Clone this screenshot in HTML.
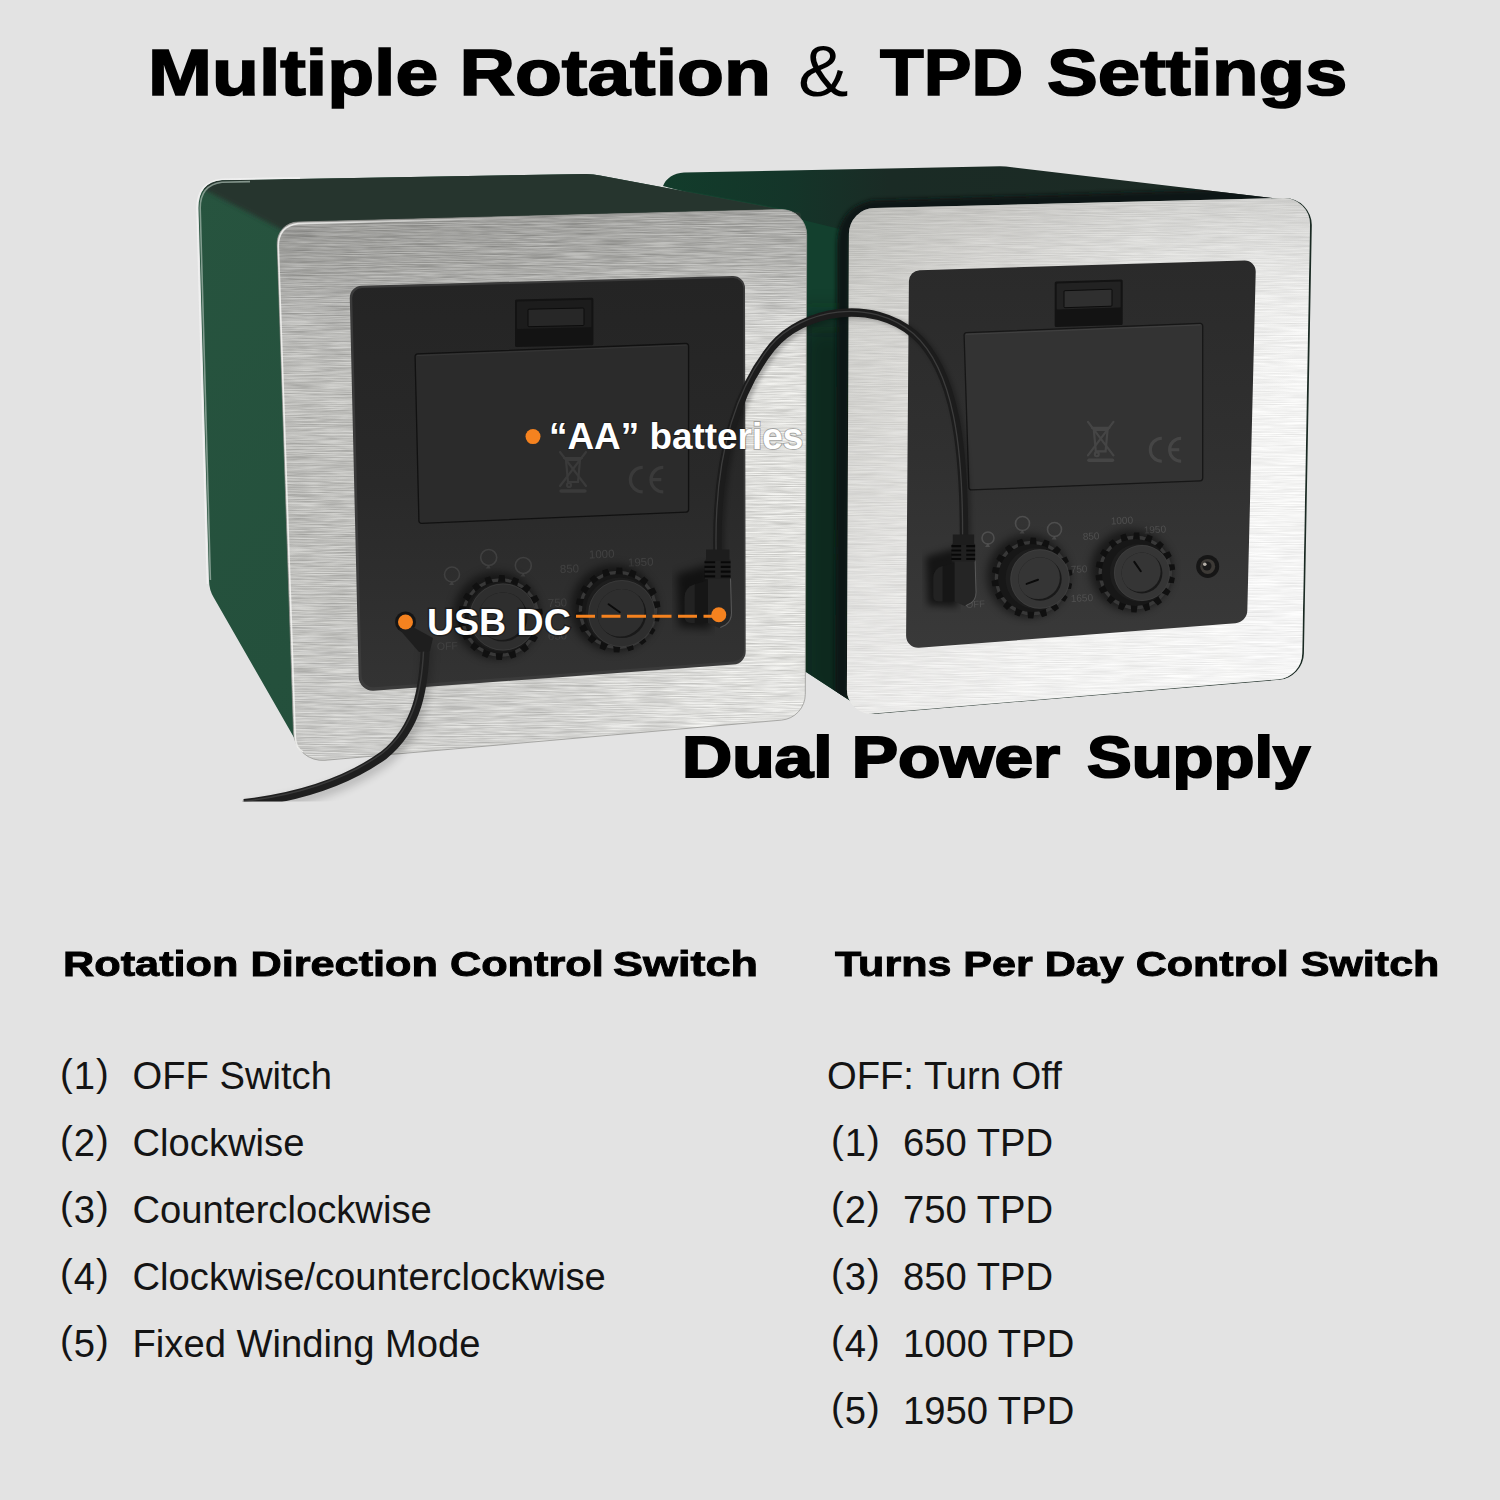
<!DOCTYPE html>
<html>
<head>
<meta charset="utf-8">
<title>Multiple Rotation &amp; TPD Settings</title>
<style>
  html, body { margin: 0; padding: 0; }
  body { width: 1500px; height: 1500px; overflow: hidden; background: #e3e3e3; font-family: "Liberation Sans", sans-serif; }
  #stage { position: relative; width: 1500px; height: 1500px; overflow: hidden; background: #e3e3e3; }
  #art { position: absolute; left: 0; top: 0; width: 1500px; height: 1500px; }
  .t { position: absolute; white-space: nowrap; color: #000; line-height: 1; transform-origin: 0 0; }
  .blk { font-weight: bold; -webkit-text-stroke: 1.6px #000; }
  .title { font-size: 64px; top: 41px; }
  .h2 { font-size: 35px; -webkit-text-stroke: 0.9px #000; }
  .li { font-size: 38.2px; color: #141414; }
  .pn { letter-spacing: 1px; }
  .p { position: relative; top: -3.5px; }
</style>
</head>
<body>
<div id="stage">
<svg id="art" viewBox="0 0 1500 1500" width="1500" height="1500">
<defs>
<filter id="brush" x="0" y="0" width="100%" height="100%" filterUnits="objectBoundingBox" color-interpolation-filters="sRGB">
  <feTurbulence type="fractalNoise" baseFrequency="0.025 0.9" numOctaves="3" seed="11" result="n"/>
  <feColorMatrix in="n" type="matrix" values="1.5 0 0 0 -0.15  1.5 0 0 0 -0.15  1.5 0 0 0 -0.15  0 0 0 0 1" result="g"/>
  <feComposite in="g" in2="SourceGraphic" operator="in"/>
</filter>
<filter id="blur2"><feGaussianBlur stdDeviation="2"/></filter>
<filter id="blur4"><feGaussianBlur stdDeviation="4"/></filter>
<filter id="blur8"><feGaussianBlur stdDeviation="8"/></filter>
<filter id="blur14"><feGaussianBlur stdDeviation="14"/></filter>
<linearGradient id="gSideL" x1="0" y1="0" x2="1" y2="1">
  <stop offset="0" stop-color="#27543f"/><stop offset="0.5" stop-color="#24503c"/><stop offset="1" stop-color="#234d3a"/>
</linearGradient>
<linearGradient id="gSilverL" x1="0" y1="0" x2="1" y2="0">
  <stop offset="0" stop-color="#c8c8c4"/><stop offset="0.13" stop-color="#cacac6"/><stop offset="0.5" stop-color="#d6d6d2"/><stop offset="0.86" stop-color="#f0f0ec"/><stop offset="1" stop-color="#f4f4f0"/>
</linearGradient>
<linearGradient id="gSilverLv" x1="0" y1="0" x2="0" y2="1">
  <stop offset="0" stop-color="#7c7c79" stop-opacity="0.6"/><stop offset="0.1" stop-color="#858582" stop-opacity="0.5"/><stop offset="0.2" stop-color="#999" stop-opacity="0.2"/><stop offset="0.32" stop-color="#aaa" stop-opacity="0"/><stop offset="0.7" stop-color="#fff" stop-opacity="0.05"/><stop offset="1" stop-color="#fff" stop-opacity="0.3"/>
</linearGradient>
<linearGradient id="gSilverR" x1="0" y1="0" x2="1" y2="0.2">
  <stop offset="0" stop-color="#d2d2ce"/><stop offset="0.3" stop-color="#e6e5e2"/><stop offset="0.65" stop-color="#f8f8f6"/><stop offset="1" stop-color="#fefefd"/>
</linearGradient>
<linearGradient id="gSilverRv" x1="0" y1="0" x2="0" y2="1">
  <stop offset="0" stop-color="#a2a29e" stop-opacity="0.42"/><stop offset="0.14" stop-color="#b0b0ac" stop-opacity="0.2"/><stop offset="0.4" stop-color="#fff" stop-opacity="0"/><stop offset="1" stop-color="#fff" stop-opacity="0.6"/>
</linearGradient>
<linearGradient id="gTopR" gradientUnits="userSpaceOnUse" x1="663" y1="0" x2="1290" y2="0">
  <stop offset="0" stop-color="#123c2b"/><stop offset="0.2" stop-color="#143529"/><stop offset="0.36" stop-color="#1a2b25"/><stop offset="1" stop-color="#1d2a25"/>
</linearGradient>
<linearGradient id="gSideR" gradientUnits="userSpaceOnUse" x1="807" y1="0" x2="850" y2="0">
  <stop offset="0" stop-color="#14422f"/><stop offset="0.55" stop-color="#113b2a"/><stop offset="0.72" stop-color="#0e261c"/><stop offset="0.8" stop-color="#0b1813"/><stop offset="1" stop-color="#0a1510"/>
</linearGradient>
<linearGradient id="gPanL" x1="0" y1="0" x2="0" y2="1"><stop offset="0" stop-color="#242424"/><stop offset="0.5" stop-color="#292929"/><stop offset="1" stop-color="#333333"/></linearGradient>
<linearGradient id="gPanR" x1="0" y1="0" x2="0" y2="1"><stop offset="0" stop-color="#2a2a2a"/><stop offset="0.5" stop-color="#303030"/><stop offset="1" stop-color="#393939"/></linearGradient>
</defs>
<path d="M663 186 Q668 174 684 172.6 L1000 166.3 Q1006 166.3 1012 167.2 L1290 200 L1290 230 L850 235 Z" fill="url(#gTopR)"/>
<path d="M663 186 L852 232 L852 702 L806 672 L790 210 Z" fill="#13402e"/>
<clipPath id="rclip"><path d="M663 186 Q668 174 684 172.6 L1000 166.3 Q1006 166.3 1012 167.2 L1290 200 L1290 230 L852 235 L852 702 L806 672 L790 210 Z"/></clipPath>
<g clip-path="url(#rclip)"><path d="M795 320 L860 320 L860 720 L795 700 Z" fill="#0b261b" opacity="0.9" filter="url(#blur14)"/></g>
<path d="M841.5 700 L843.5 245 Q843.5 214 872 207 L1290 194" fill="none" stroke="#0b1712" stroke-width="13" filter="url(#blur2)" opacity="0.95" clip-path="url(#rclip)"/>
<path d="M851.0 234.3 A26.0 26.0 0 0 1 876.3 208.4 L1284.1 198.1 A27.0 27.0 0 0 1 1311.8 225.6 L1303.9 653.4 A27.0 27.0 0 0 1 1279.2 679.8 L876.5 713.8 A24.0 24.0 0 0 1 850.5 689.9 Z" fill="#1a2a23" />
<path d="M848.9 233.8 A26.0 26.0 0 0 1 874.3 207.9 L1283.4 198.1 A26.0 26.0 0 0 1 1310.0 224.5 L1302.2 653.7 A26.0 26.0 0 0 1 1278.4 679.2 L872.9 713.6 A24.0 24.0 0 0 1 846.9 689.6 Z" fill="url(#gSilverR)"/>
<path d="M848.9 233.8 A26.0 26.0 0 0 1 874.3 207.9 L1283.4 198.1 A26.0 26.0 0 0 1 1310.0 224.5 L1302.2 653.7 A26.0 26.0 0 0 1 1278.4 679.2 L872.9 713.6 A24.0 24.0 0 0 1 846.9 689.6 Z" fill="url(#gSilverRv)"/>
<path d="M848.9 233.8 A26.0 26.0 0 0 1 874.3 207.9 L1283.4 198.1 A26.0 26.0 0 0 1 1310.0 224.5 L1302.2 653.7 A26.0 26.0 0 0 1 1278.4 679.2 L872.9 713.6 A24.0 24.0 0 0 1 846.9 689.6 Z" fill="#888" filter="url(#brush)" opacity="0.09"/>
<path d="M908.9 281.1 A11.0 11.0 0 0 1 919.6 270.2 L1244.4 260.6 A11.0 11.0 0 0 1 1255.7 271.9 L1247.3 610.7 A13.0 13.0 0 0 1 1235.3 623.3 L919.0 647.8 A12.0 12.0 0 0 1 906.1 635.7 Z" fill="url(#gPanR)"/>
<clipPath id="gclip"><path d="M198.5 208 Q198.5 182 222 180.3 L586 174 Q594 174 600 175.5 L800 213 L806 240 L806 672 L300 748 L214 598 Q209 590 209 580 Z"/></clipPath>
<path d="M198.5 208 Q198.5 182 222 180.3 L586 174 Q594 174 600 175.5 L800 213 L806 240 L806 672 L300 748 L214 598 Q209 590 209 580 Z" fill="url(#gSideL)"/>
<g clip-path="url(#gclip)">
<path d="M150 161.5 L150 120 L600 120 L810 200 L810 235 L300 226 Q289 226.5 284 231 Z" fill="#27352f" filter="url(#blur2)"/>
</g>
<path d="M210.4 580 L200.2 208 Q200.2 185 222 182.2 L250 181.6" fill="none" stroke="#a9bcb2" stroke-width="1.6" opacity="0.7"/>
<path d="M207.4 584 L197 208 Q197 182 222 179.2 L300 177.9" fill="none" stroke="#f1f1f1" stroke-width="1.6" opacity="0.9"/>
<path d="M277.2 243.6 A21.0 21.0 0 0 1 297.7 222.0 L781.1 209.6 A25.0 25.0 0 0 1 806.7 234.6 L805.3 694.3 A26.0 26.0 0 0 1 781.6 720.1 L325.0 760.3 A29.0 29.0 0 0 1 293.5 732.4 Z" fill="url(#gSilverL)"/>
<path d="M277.2 243.6 A21.0 21.0 0 0 1 297.7 222.0 L781.1 209.6 A25.0 25.0 0 0 1 806.7 234.6 L805.3 694.3 A26.0 26.0 0 0 1 781.6 720.1 L325.0 760.3 A29.0 29.0 0 0 1 293.5 732.4 Z" fill="url(#gSilverLv)"/>
<path d="M277.2 243.6 A21.0 21.0 0 0 1 297.7 222.0 L781.1 209.6 A25.0 25.0 0 0 1 806.7 234.6 L805.3 694.3 A26.0 26.0 0 0 1 781.6 720.1 L325.0 760.3 A29.0 29.0 0 0 1 293.5 732.4 Z" fill="#777" filter="url(#brush)" opacity="0.2"/>
<path d="M277.2 243.6 A21.0 21.0 0 0 1 297.7 222.0 L781.1 209.6 A25.0 25.0 0 0 1 806.7 234.6 L805.3 694.3 A26.0 26.0 0 0 1 781.6 720.1 L325.0 760.3 A29.0 29.0 0 0 1 293.5 732.4 Z" fill="none" stroke="#8f8f8b" stroke-width="1" opacity="0.7"/>
<linearGradient id="fadeR" gradientUnits="userSpaceOnUse" x1="290" y1="0" x2="560" y2="0"><stop offset="0" stop-color="#f4f4f2" stop-opacity="0.85"/><stop offset="1" stop-color="#f4f4f2" stop-opacity="0"/></linearGradient>
<path d="M303 752 Q296 748 295.3 738 L278.3 246 Q278.3 226 298 223.6" fill="none" stroke="#f4f4f2" stroke-width="1.6" opacity="0.85"/>
<path d="M298 223.6 L560 216.8" fill="none" stroke="url(#fadeR)" stroke-width="1.6"/>
<path d="M349.8 298.0 A12.0 12.0 0 0 1 361.5 285.7 L732.7 276.1 A12.0 12.0 0 0 1 745.0 288.1 L745.7 651.5 A13.0 13.0 0 0 1 733.6 664.5 L373.7 690.7 A14.0 14.0 0 0 1 358.7 677.1 Z" fill="#3b3b3b"/>
<path d="M352.2 298.2 A10.0 10.0 0 0 1 362.0 287.9 L733.2 278.1 A10.0 10.0 0 0 1 743.4 288.1 L744.0 650.5 A11.0 11.0 0 0 1 733.8 661.5 L374.3 687.3 A12.0 12.0 0 0 1 361.5 675.6 Z" fill="url(#gPanL)"/>
<path d="M964.1 335.2 A2.5 2.5 0 0 1 966.5 332.6 L1200.1 323.4 A2.5 2.5 0 0 1 1202.7 325.9 L1202.7 478.3 A2.5 2.5 0 0 1 1200.3 480.8 L971.5 489.9 A2.5 2.5 0 0 1 968.9 487.5 Z" fill="#333333" stroke="#161616" stroke-width="1.3"/>
<path d="M966.0 334.3 L1200.7 324.9" stroke="#4a4a4a" stroke-width="1" opacity="0.6"/>
<path d="M1054.7 283.0 A1.5 1.5 0 0 1 1056.2 281.5 L1121.2 279.4 A1.5 1.5 0 0 1 1122.7 280.9 L1122.7 323.4 A1.5 1.5 0 0 1 1121.2 324.9 L1056.2 327.0 A1.5 1.5 0 0 1 1054.7 325.5 Z" fill="#131313"/>
<path d="M1056.7 284.4 A1.0 1.0 0 0 1 1057.7 283.4 L1119.7 281.4 A1.0 1.0 0 0 1 1120.7 282.4 L1120.7 306.6 A1.0 1.0 0 0 1 1119.7 307.6 L1057.7 309.6 A1.0 1.0 0 0 1 1056.7 308.6 Z" fill="#222"/>
<path d="M1064.0 291.7 A1.0 1.0 0 0 1 1065.0 290.7 L1111.0 289.2 A1.0 1.0 0 0 1 1112.0 290.2 L1112.0 305.2 A1.0 1.0 0 0 1 1111.0 306.2 L1065.0 307.7 A1.0 1.0 0 0 1 1064.0 306.7 Z" fill="#2f2f2f" stroke="#0c0c0c" stroke-width="1"/>
<g transform="translate(1086.0 420.0) scale(0.980)" stroke="#484848" stroke-width="2.2" fill="none" opacity="0.9" stroke-linecap="round"><path d="M2 2 L28 36 M28 2 L2 36"/><path d="M8 10 L22 10 L20 32 L10 32 Z"/><path d="M6 8 L24 8"/><circle cx="11" cy="35" r="2"/><path d="M3 41 L27 41" stroke-width="3.5"/></g>
<g transform="translate(1148.0 436.0) scale(0.920)" stroke="#484848" stroke-width="3.4" fill="none" opacity="0.9"><path d="M15 2.5 A12.5 12.5 0 1 0 15 27.5"/><path d="M36 2.5 A12.5 12.5 0 1 0 36 27.5 M24 15 L34 15"/></g>
<circle cx="1022.5" cy="523.5" r="7.0" fill="none" stroke="#555" stroke-width="1.6" opacity="0.8"/><path d="M1022.5 529.5 l-3 4 l5 0 Z" fill="#555" opacity="0.8"/>
<circle cx="1054.5" cy="529.5" r="7.0" fill="none" stroke="#555" stroke-width="1.6" opacity="0.8"/><path d="M1054.5 535.5 l-3 4 l5 0 Z" fill="#555" opacity="0.8"/>
<circle cx="988.0" cy="538.0" r="6.0" fill="none" stroke="#555" stroke-width="1.6" opacity="0.8"/><path d="M988.0 543.0 l-3 4 l5 0 Z" fill="#555" opacity="0.8"/>
<text x="1111.0" y="524.5" font-family="Liberation Sans, sans-serif" font-size="10.0" fill="#555" opacity="0.85" transform="rotate(-3 1111.0 524.5)">1000</text>
<text x="1144.0" y="533.5" font-family="Liberation Sans, sans-serif" font-size="10.0" fill="#555" opacity="0.85" transform="rotate(-3 1144.0 533.5)">1950</text>
<text x="1083.0" y="540.0" font-family="Liberation Sans, sans-serif" font-size="10.0" fill="#555" opacity="0.85" transform="rotate(-3 1083.0 540.0)">850</text>
<text x="1071.0" y="573.0" font-family="Liberation Sans, sans-serif" font-size="10.0" fill="#555" opacity="0.85" transform="rotate(-3 1071.0 573.0)">750</text>
<text x="1071.0" y="602.0" font-family="Liberation Sans, sans-serif" font-size="10.0" fill="#555" opacity="0.85" transform="rotate(-3 1071.0 602.0)">1650</text>
<text x="966.0" y="608.0" font-family="Liberation Sans, sans-serif" font-size="9.5" fill="#555" opacity="0.85" transform="rotate(-3 966.0 608.0)">OFF</text>
<circle cx="1028.0" cy="576.0" r="41.5" fill="#000" opacity="0.5" filter="url(#blur4)"/>
<circle cx="1032.0" cy="578.0" r="37.3" fill="#383838"/>
<path d="M1064.8 581.3 L1072.1 583.7 L1071.0 589.0 L1063.4 588.3 L1061.7 592.3 L1067.7 597.1 L1064.9 601.7 L1058.0 598.4 L1055.0 601.6 L1059.0 608.2 L1054.8 611.5 L1049.4 606.0 L1045.6 608.1 L1047.1 615.6 L1042.0 617.3 L1038.8 610.3 L1034.5 610.9 L1033.3 618.5 L1028.0 618.3 L1027.3 610.7 L1023.1 609.8 L1019.4 616.5 L1014.4 614.5 L1016.4 607.1 L1012.7 604.8 L1007.0 609.9 L1003.0 606.3 L1007.4 600.0 L1004.7 596.6 L997.6 599.4 L995.1 594.6 L1001.4 590.3 L1000.0 586.1 L992.4 586.3 L991.6 581.0 L999.0 579.1 L999.2 574.7 L991.9 572.3 L993.0 567.0 L1000.6 567.7 L1002.3 563.7 L996.3 558.9 L999.1 554.3 L1006.0 557.6 L1009.0 554.4 L1005.0 547.8 L1009.2 544.5 L1014.6 550.0 L1018.4 547.9 L1016.9 540.4 L1022.0 538.7 L1025.2 545.7 L1029.5 545.1 L1030.7 537.5 L1036.0 537.7 L1036.7 545.3 L1040.9 546.2 L1044.6 539.5 L1049.6 541.5 L1047.6 548.9 L1051.3 551.2 L1057.0 546.1 L1061.0 549.7 L1056.6 556.0 L1059.3 559.4 L1066.4 556.6 L1068.9 561.4 L1062.6 565.7 L1064.0 569.9 L1071.6 569.7 L1072.4 575.0 L1065.0 576.9Z" fill="#101010"/>
<circle cx="1032.0" cy="578.0" r="34.0" fill="#171717"/>
<circle cx="1036.0" cy="578.5" r="30.5" fill="#1d1d1d"/>
<circle cx="1040.0" cy="579.0" r="29.7" fill="#353535"/>
<circle cx="1040.0" cy="579.0" r="29.3" fill="none" stroke="#4a4a4a" stroke-width="0.8" opacity="0.5"/>
<circle cx="1040.0" cy="579.0" r="21.7" fill="#191919"/>
<clipPath id="kc10400"><circle cx="1040.0" cy="579.0" r="21.7"/></clipPath>
<circle cx="1038.2" cy="577.4" r="21.7" fill="#353535" clip-path="url(#kc10400)"/>
<path d="M1038.0 579.7 L1026.6 583.9" stroke="#0b0b0b" stroke-width="2" stroke-linecap="round"/>
<circle cx="1131.3" cy="570.4" r="41.0" fill="#000" opacity="0.5" filter="url(#blur4)"/>
<circle cx="1135.3" cy="572.4" r="36.8" fill="#383838"/>
<path d="M1167.6 575.6 L1174.9 578.1 L1173.8 583.2 L1166.2 582.5 L1164.6 586.5 L1170.6 591.3 L1167.8 595.8 L1160.9 592.5 L1158.0 595.7 L1162.0 602.2 L1157.8 605.5 L1152.5 600.0 L1148.7 602.0 L1150.2 609.5 L1145.2 611.2 L1142.0 604.2 L1137.7 604.8 L1136.6 612.4 L1131.3 612.2 L1130.7 604.6 L1126.5 603.7 L1122.9 610.4 L1117.9 608.4 L1120.0 601.1 L1116.3 598.8 L1110.6 603.9 L1106.7 600.3 L1111.1 594.1 L1108.4 590.7 L1101.3 593.5 L1098.8 588.8 L1105.1 584.5 L1103.8 580.4 L1096.2 580.6 L1095.4 575.4 L1102.8 573.5 L1103.0 569.2 L1095.7 566.7 L1096.8 561.6 L1104.4 562.3 L1106.0 558.3 L1100.0 553.5 L1102.8 549.0 L1109.7 552.3 L1112.6 549.1 L1108.6 542.6 L1112.8 539.3 L1118.1 544.8 L1121.9 542.8 L1120.4 535.3 L1125.4 533.6 L1128.6 540.6 L1132.9 540.0 L1134.0 532.4 L1139.3 532.6 L1139.9 540.2 L1144.1 541.1 L1147.7 534.4 L1152.7 536.4 L1150.6 543.7 L1154.3 546.0 L1160.0 540.9 L1163.9 544.5 L1159.5 550.7 L1162.2 554.1 L1169.3 551.3 L1171.8 556.0 L1165.5 560.3 L1166.8 564.4 L1174.4 564.2 L1175.2 569.4 L1167.8 571.3Z" fill="#101010"/>
<circle cx="1135.3" cy="572.4" r="33.5" fill="#171717"/>
<circle cx="1138.7" cy="572.7" r="28.8" fill="#1d1d1d"/>
<circle cx="1142.0" cy="573.0" r="28.0" fill="#353535"/>
<circle cx="1142.0" cy="573.0" r="27.6" fill="none" stroke="#4a4a4a" stroke-width="0.8" opacity="0.5"/>
<circle cx="1142.0" cy="573.0" r="20.4" fill="#191919"/>
<clipPath id="kc11420"><circle cx="1142.0" cy="573.0" r="20.4"/></clipPath>
<circle cx="1140.2" cy="571.4" r="20.4" fill="#353535" clip-path="url(#kc11420)"/>
<path d="M1140.8 571.3 L1134.3 561.9" stroke="#0b0b0b" stroke-width="2" stroke-linecap="round"/>
<circle cx="1207.7" cy="566.4" r="11.5" fill="#161616"/><circle cx="1207.7" cy="566.4" r="7.5" fill="#3d3a36"/><circle cx="1207" cy="566" r="4.5" fill="#1a1a1a"/><circle cx="1204.8" cy="564.3" r="1.8" fill="#b5b0a8"/>
<path d="M415.1 356.5 A2.5 2.5 0 0 1 417.5 353.9 L686.0 343.5 A2.5 2.5 0 0 1 688.6 346.0 L688.6 509.6 A2.5 2.5 0 0 1 686.2 512.1 L421.5 523.3 A2.5 2.5 0 0 1 418.9 520.9 Z" fill="#2b2b2b" stroke="#111" stroke-width="1.3"/>
<path d="M417.0 355.6 L686.6 345.0" stroke="#3d3d3d" stroke-width="1" opacity="0.6"/>
<path d="M515.0 301.0 A1.5 1.5 0 0 1 516.5 299.5 L591.9 297.8 A1.5 1.5 0 0 1 593.4 299.3 L593.4 343.8 A1.5 1.5 0 0 1 591.9 345.3 L516.5 347.0 A1.5 1.5 0 0 1 515.0 345.5 Z" fill="#131313"/>
<path d="M517.0 302.4 A1.0 1.0 0 0 1 518.0 301.4 L590.4 299.8 A1.0 1.0 0 0 1 591.4 300.8 L591.4 326.3 A1.0 1.0 0 0 1 590.4 327.3 L518.0 328.9 A1.0 1.0 0 0 1 517.0 327.9 Z" fill="#1c1c1c"/>
<path d="M528.0 310.2 A1.0 1.0 0 0 1 529.0 309.2 L583.0 308.0 A1.0 1.0 0 0 1 584.0 309.0 L584.0 324.5 A1.0 1.0 0 0 1 583.0 325.5 L529.0 326.7 A1.0 1.0 0 0 1 528.0 325.7 Z" fill="#272727" stroke="#0c0c0c" stroke-width="1"/>
<g transform="translate(558.0 450.0) scale(1.000)" stroke="#3c3c3c" stroke-width="2.2" fill="none" opacity="0.9" stroke-linecap="round"><path d="M2 2 L28 36 M28 2 L2 36"/><path d="M8 10 L22 10 L20 32 L10 32 Z"/><path d="M6 8 L24 8"/><circle cx="11" cy="35" r="2"/><path d="M3 41 L27 41" stroke-width="3.5"/></g>
<g transform="translate(628.0 465.0) scale(0.980)" stroke="#3c3c3c" stroke-width="3.4" fill="none" opacity="0.9"><path d="M15 2.5 A12.5 12.5 0 1 0 15 27.5"/><path d="M36 2.5 A12.5 12.5 0 1 0 36 27.5 M24 15 L34 15"/></g>
<circle cx="488.7" cy="557.5" r="8.0" fill="none" stroke="#454545" stroke-width="1.6" opacity="0.8"/><path d="M488.7 564.5 l-3 4 l5 0 Z" fill="#454545" opacity="0.8"/>
<circle cx="523.3" cy="565.5" r="8.0" fill="none" stroke="#454545" stroke-width="1.6" opacity="0.8"/><path d="M523.3 572.5 l-3 4 l5 0 Z" fill="#454545" opacity="0.8"/>
<circle cx="452.0" cy="574.5" r="7.5" fill="none" stroke="#454545" stroke-width="1.6" opacity="0.8"/><path d="M452.0 581.0 l-3 4 l5 0 Z" fill="#454545" opacity="0.8"/>
<text x="589.0" y="558.5" font-family="Liberation Sans, sans-serif" font-size="11.5" fill="#454545" opacity="0.85" transform="rotate(-2 589.0 558.5)">1000</text>
<text x="628.0" y="566.5" font-family="Liberation Sans, sans-serif" font-size="11.5" fill="#454545" opacity="0.85" transform="rotate(-2 628.0 566.5)">1950</text>
<text x="560.0" y="573.0" font-family="Liberation Sans, sans-serif" font-size="11.5" fill="#454545" opacity="0.85" transform="rotate(-2 560.0 573.0)">850</text>
<text x="548.0" y="607.0" font-family="Liberation Sans, sans-serif" font-size="11.5" fill="#454545" opacity="0.85" transform="rotate(-2 548.0 607.0)">750</text>
<text x="548.0" y="640.0" font-family="Liberation Sans, sans-serif" font-size="11.5" fill="#454545" opacity="0.85" transform="rotate(-2 548.0 640.0)">650</text>
<text x="437.0" y="650.0" font-family="Liberation Sans, sans-serif" font-size="10.5" fill="#454545" opacity="0.85" transform="rotate(-2 437.0 650.0)">OFF</text>
<circle cx="496.5" cy="615.5" r="43.5" fill="#000" opacity="0.5" filter="url(#blur4)"/>
<circle cx="500.5" cy="617.5" r="39.3" fill="#383838"/>
<path d="M535.3 621.0 L542.6 623.5 L541.4 629.0 L533.8 628.4 L532.0 632.7 L538.0 637.5 L535.0 642.3 L528.0 639.1 L524.9 642.6 L528.9 649.1 L524.4 652.6 L519.0 647.2 L514.9 649.4 L516.3 656.9 L511.0 658.7 L507.7 651.8 L503.1 652.4 L501.9 660.0 L496.3 659.8 L495.6 652.1 L491.0 651.2 L487.3 657.9 L482.0 655.8 L484.0 648.4 L480.1 645.9 L474.3 650.9 L470.1 647.2 L474.4 640.9 L471.6 637.2 L464.4 639.9 L461.8 635.0 L468.0 630.5 L466.6 626.1 L458.9 626.2 L458.1 620.7 L465.5 618.6 L465.7 614.0 L458.4 611.5 L459.6 606.0 L467.2 606.6 L469.0 602.3 L463.0 597.5 L466.0 592.7 L473.0 595.9 L476.1 592.4 L472.1 585.9 L476.6 582.4 L482.0 587.8 L486.1 585.6 L484.7 578.1 L490.0 576.3 L493.3 583.2 L497.9 582.6 L499.1 575.0 L504.7 575.2 L505.4 582.9 L510.0 583.8 L513.7 577.1 L519.0 579.2 L517.0 586.6 L520.9 589.1 L526.7 584.1 L530.9 587.8 L526.6 594.1 L529.4 597.8 L536.6 595.1 L539.2 600.0 L533.0 604.5 L534.4 608.9 L542.1 608.8 L542.9 614.3 L535.5 616.4Z" fill="#101010"/>
<circle cx="500.5" cy="617.5" r="36.0" fill="#171717"/>
<circle cx="501.8" cy="617.2" r="34.3" fill="#1d1d1d"/>
<circle cx="503.0" cy="617.0" r="33.5" fill="#2e2e2e"/>
<circle cx="503.0" cy="617.0" r="33.1" fill="none" stroke="#4a4a4a" stroke-width="0.8" opacity="0.5"/>
<circle cx="503.0" cy="617.0" r="24.5" fill="#191919"/>
<clipPath id="kc5030"><circle cx="503.0" cy="617.0" r="24.5"/></clipPath>
<circle cx="501.2" cy="615.4" r="24.5" fill="#2e2e2e" clip-path="url(#kc5030)"/>
<path d="M500.7 617.8 L487.8 622.5" stroke="#0b0b0b" stroke-width="2" stroke-linecap="round"/>
<circle cx="614.0" cy="608.0" r="43.5" fill="#000" opacity="0.5" filter="url(#blur4)"/>
<circle cx="618.0" cy="610.0" r="39.3" fill="#383838"/>
<path d="M652.8 613.5 L660.1 616.0 L658.9 621.5 L651.3 620.9 L649.5 625.2 L655.5 630.0 L652.5 634.8 L645.5 631.6 L642.4 635.1 L646.4 641.6 L641.9 645.1 L636.5 639.7 L632.4 641.9 L633.8 649.4 L628.5 651.2 L625.2 644.3 L620.6 644.9 L619.4 652.5 L613.8 652.3 L613.1 644.6 L608.5 643.7 L604.8 650.4 L599.5 648.3 L601.5 640.9 L597.6 638.4 L591.8 643.4 L587.6 639.7 L591.9 633.4 L589.1 629.7 L581.9 632.4 L579.3 627.5 L585.5 623.0 L584.1 618.6 L576.4 618.7 L575.6 613.2 L583.0 611.1 L583.2 606.5 L575.9 604.0 L577.1 598.5 L584.7 599.1 L586.5 594.8 L580.5 590.0 L583.5 585.2 L590.5 588.4 L593.6 584.9 L589.6 578.4 L594.1 574.9 L599.5 580.3 L603.6 578.1 L602.2 570.6 L607.5 568.8 L610.8 575.7 L615.4 575.1 L616.6 567.5 L622.2 567.7 L622.9 575.4 L627.5 576.3 L631.2 569.6 L636.5 571.7 L634.5 579.1 L638.4 581.6 L644.2 576.6 L648.4 580.3 L644.1 586.6 L646.9 590.3 L654.1 587.6 L656.7 592.5 L650.5 597.0 L651.9 601.4 L659.6 601.3 L660.4 606.8 L653.0 608.9Z" fill="#101010"/>
<circle cx="618.0" cy="610.0" r="36.0" fill="#171717"/>
<circle cx="619.9" cy="611.8" r="34.3" fill="#1d1d1d"/>
<circle cx="621.8" cy="613.6" r="33.5" fill="#2e2e2e"/>
<circle cx="621.8" cy="613.6" r="33.1" fill="none" stroke="#4a4a4a" stroke-width="0.8" opacity="0.5"/>
<circle cx="621.8" cy="613.6" r="24.5" fill="#191919"/>
<clipPath id="kc6218"><circle cx="621.8" cy="613.6" r="24.5"/></clipPath>
<circle cx="620.0" cy="612.0" r="24.5" fill="#2e2e2e" clip-path="url(#kc6218)"/>
<path d="M619.8 612.2 L608.6 604.3" stroke="#0b0b0b" stroke-width="2" stroke-linecap="round"/>
<path d="M717.5 553 C716 480 728 402 772 347 C803 310 872 298 915 335 C956 372 964 450 964 536" fill="none" stroke="#000" stroke-width="9" opacity="0.25" filter="url(#blur2)" transform="translate(3,2)"/>
<path d="M717.5 553 C716 480 728 402 772 347 C803 310 872 298 915 335 C956 372 964 450 964 536" fill="none" stroke="#1c1c1c" stroke-width="8.4" stroke-linecap="round"/>
<path d="M717.5 553 C716 480 728 402 772 347 C803 310 872 298 915 335 C956 372 964 450 964 536" fill="none" stroke="#454545" stroke-width="1.3" transform="translate(-1.4,-1.2)" opacity="0.8"/>
<g transform="translate(717.2 549.5) scale(1.020)">
<path d="M-40 24 L-6 14 L-6 78 L-38 76 Z" fill="#000" opacity="0.6" filter="url(#blur4)"/>
<path d="M-8 30 L-22 34 Q-32 37 -32 47 L-32 66 Q-32 72 -26 72 L-8 72 Z" fill="#161616"/>
<path d="M-22 34 Q-32 37 -32 47 L-32 66 Q-32 72 -26 72 L-22 72 Z" fill="#222"/>
<path d="M-9 28 L13 28 L14 62 Q14 70 8 74 L2 77 L-9 72 Z" fill="#252525"/>
<path d="M13 28 L14 62 Q14 70 8 74 L3 76.5" stroke="#6a6a6a" stroke-width="1.1" fill="none" opacity="0.7"/>
<path d="M-12 10 L13 10 L13 29 L-12 29 Z" fill="#202020"/>
<path d="M-12.5 12.5 L-2 12.5 M3.5 12.5 L13 12.5" stroke="#080808" stroke-width="2.2"/>
<path d="M-12.5 17.1 L-2 17.1 M3.5 17.1 L13 17.1" stroke="#080808" stroke-width="2.2"/>
<path d="M-12.5 21.7 L-2 21.7 M3.5 21.7 L13 21.7" stroke="#080808" stroke-width="2.2"/>
<path d="M-12.5 26.3 L-2 26.3 M3.5 26.3 L13 26.3" stroke="#080808" stroke-width="2.2"/>
<path d="M-11 0 L12 0 L12 11 L-11 11 Z" fill="#1d1d1d"/>
</g>
<g transform="translate(963.0 534.5) scale(0.930)">
<path d="M-40 24 L-6 14 L-6 78 L-38 76 Z" fill="#000" opacity="0.6" filter="url(#blur4)"/>
<path d="M-8 30 L-22 34 Q-32 37 -32 47 L-32 66 Q-32 72 -26 72 L-8 72 Z" fill="#161616"/>
<path d="M-22 34 Q-32 37 -32 47 L-32 66 Q-32 72 -26 72 L-22 72 Z" fill="#222"/>
<path d="M-9 28 L13 28 L14 62 Q14 70 8 74 L2 77 L-9 72 Z" fill="#252525"/>
<path d="M13 28 L14 62 Q14 70 8 74 L3 76.5" stroke="#6a6a6a" stroke-width="1.1" fill="none" opacity="0.7"/>
<path d="M-12 10 L13 10 L13 29 L-12 29 Z" fill="#202020"/>
<path d="M-12.5 12.5 L-2 12.5 M3.5 12.5 L13 12.5" stroke="#080808" stroke-width="2.2"/>
<path d="M-12.5 17.1 L-2 17.1 M3.5 17.1 L13 17.1" stroke="#080808" stroke-width="2.2"/>
<path d="M-12.5 21.7 L-2 21.7 M3.5 21.7 L13 21.7" stroke="#080808" stroke-width="2.2"/>
<path d="M-12.5 26.3 L-2 26.3 M3.5 26.3 L13 26.3" stroke="#080808" stroke-width="2.2"/>
<path d="M-11 0 L12 0 L12 11 L-11 11 Z" fill="#1d1d1d"/>
</g>
<clipPath id="photoclip"><rect x="0" y="0" width="1500" height="801.5"/></clipPath>
<g clip-path="url(#photoclip)">
<path d="M425.5 640 C424.5 690 417 728 384 755 C348 781 300 797 244 803.5" fill="none" stroke="#000" stroke-width="11" opacity="0.18" filter="url(#blur4)" transform="translate(2,5)"/>
<path d="M425.5 640 C424.5 690 417 728 384 755 C348 781 300 797 244 803.5" fill="none" stroke="#1f1f1f" stroke-width="9" />
<path d="M425.5 640 C424.5 690 417 728 384 755 C348 781 300 797 244 803.5" fill="none" stroke="#444" stroke-width="1.5" transform="translate(-1.5,-2)" opacity="0.7"/>
</g>
<circle cx="405.5" cy="622" r="10.5" fill="#151515"/>
<path d="M399 629 L411 626 L433 638 L430 651 L419 652 Z" fill="#1e1e1e"/>
<circle cx="533" cy="436.6" r="7.5" fill="#f5821f"/>
<circle cx="405.5" cy="622" r="7.5" fill="#f5821f"/>
<path d="M576 616.3 L712 616.3" stroke="#f5821f" stroke-width="3" stroke-dasharray="19 6.5"/>
<circle cx="718.8" cy="614.8" r="7.5" fill="#f5821f"/>
<text x="549" y="449" font-family="Liberation Sans, sans-serif" font-weight="bold" font-size="36.9" fill="#fff" id="aa" style="paint-order:stroke" stroke="#000" stroke-opacity="0.25" stroke-width="2">“AA” batteries</text>
<text x="427" y="635" font-family="Liberation Sans, sans-serif" font-weight="bold" font-size="37.5" fill="#fff" id="usb" style="paint-order:stroke" stroke="#000" stroke-opacity="0.35" stroke-width="3">USB DC</text>
</svg>

<div class="t blk title" id="t1" style="left:148.2px; transform:scaleX(1.2);">Multiple Rotation</div>
<div class="t" id="t2" style="left:798px; top:35px; font-size:72px; transform:scaleX(1.05);">&amp;</div>
<div class="t blk title" id="t3" style="left:880px; transform:scaleX(1.118);">TPD</div>
<div class="t blk title" id="t3b" style="left:1047px; transform:scaleX(1.19);">Settings</div>

<div class="t blk" id="t4" style="left:681.5px; top:727.5px; font-size:58px; -webkit-text-stroke:2px #000; transform:scaleX(1.197);">Dual Power</div>
<div class="t blk" id="t4b" style="left:1086.5px; top:727.5px; font-size:58px; -webkit-text-stroke:2px #000; transform:scaleX(1.155);">Supply</div>

<div class="t blk h2" id="h1" style="left:63px; top:946px; transform:scaleX(1.236);">Rotation Direction Control</div>
<div class="t blk h2" id="h1b" style="left:613px; top:946px; transform:scaleX(1.285);">Switch</div>
<div class="t blk h2" id="h2" style="left:835px; top:946px; transform:scaleX(1.23);">Turns Per Day Control Switch</div>

<div class="t li pn" id="l1" style="left:60px; top:1057px;"><span class="p">(</span>1<span class="p">)</span></div><div class="t li" id="l1b" style="left:132.5px; top:1057px;">OFF Switch</div>
<div class="t li pn" id="l2" style="left:60px; top:1124px;"><span class="p">(</span>2<span class="p">)</span></div><div class="t li" id="l2b" style="left:132.5px; top:1124px;">Clockwise</div>
<div class="t li pn" id="l3" style="left:60px; top:1190.8px;"><span class="p">(</span>3<span class="p">)</span></div><div class="t li" id="l3b" style="left:132.5px; top:1190.8px;">Counterclockwise</div>
<div class="t li pn" id="l4" style="left:60px; top:1257.7px;"><span class="p">(</span>4<span class="p">)</span></div><div class="t li" id="l4b" style="left:132.5px; top:1257.7px;">Clockwise/counterclockwise</div>
<div class="t li pn" id="l5" style="left:60px; top:1324.6px;"><span class="p">(</span>5<span class="p">)</span></div><div class="t li" id="l5b" style="left:132.5px; top:1324.6px;">Fixed Winding Mode</div>

<div class="t li" id="r0" style="left:827px; top:1057px;">OFF: Turn Off</div>
<div class="t li pn" id="r1" style="left:831px; top:1124px;"><span class="p">(</span>1<span class="p">)</span></div><div class="t li" id="r1b" style="left:903px; top:1124px;">650 TPD</div>
<div class="t li pn" id="r2" style="left:831px; top:1190.8px;"><span class="p">(</span>2<span class="p">)</span></div><div class="t li" id="r2b" style="left:903px; top:1190.8px;">750 TPD</div>
<div class="t li pn" id="r3" style="left:831px; top:1257.7px;"><span class="p">(</span>3<span class="p">)</span></div><div class="t li" id="r3b" style="left:903px; top:1257.7px;">850 TPD</div>
<div class="t li pn" id="r4" style="left:831px; top:1324.6px;"><span class="p">(</span>4<span class="p">)</span></div><div class="t li" id="r4b" style="left:903px; top:1324.6px;">1000 TPD</div>
<div class="t li pn" id="r5" style="left:831px; top:1391.5px;"><span class="p">(</span>5<span class="p">)</span></div><div class="t li" id="r5b" style="left:903px; top:1391.5px;">1950 TPD</div>
</div>
</body>
</html>
